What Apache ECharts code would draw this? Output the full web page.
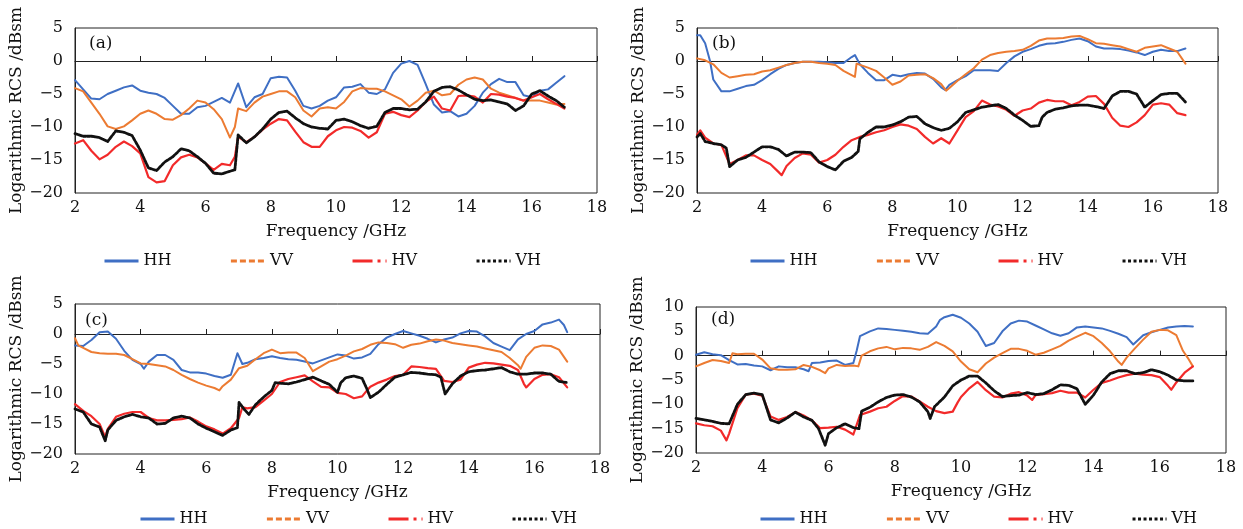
<!DOCTYPE html>
<html>
<head>
<meta charset="utf-8">
<script src="https://cdn.jsdelivr.net/npm/echarts@6/dist/echarts.min.js"></script>
<style>
  html, body { margin: 0; padding: 0; background: #fff; }
  #chart { width: 1243px; height: 529px; }
</style>
</head>
<body>
<div id="chart"></div>
<script>
const seriesNames = ['HH', 'VV', 'HV', 'VH']
const panelLabels = ['(a)', '(b)', '(c)', '(d)']
const yMaxes = [5, 5, 5, 10]
const xName = 'Frequency /GHz'
const yName = 'Logarithmic RCS /dBsm'

// (a) [frequency GHz, RCS dBsm]
const aHH = [[2,-2.9],[2.25,-4.3],[2.5,-5.7],[2.75,-5.8],[3,-5.0],[3.25,-4.5],[3.5,-4.0],[3.75,-3.7],[4,-4.5],[4.25,-4.8],[4.5,-5.0],[4.75,-5.6],[5,-6.8],[5.25,-8.0],[5.5,-8.0],[5.75,-7.0],[6,-6.8],[6.25,-6.2],[6.5,-5.6],[6.75,-6.3],[7,-3.4],[7.25,-7.0],[7.5,-5.5],[7.75,-5.0],[8,-2.6],[8.25,-2.4],[8.5,-2.5],[8.75,-4.5],[9,-6.8],[9.25,-7.2],[9.5,-6.8],[9.75,-6.0],[10,-5.5],[10.25,-4.0],[10.5,-3.9],[10.75,-3.5],[11,-4.8],[11.25,-5.0],[11.5,-4.3],[11.75,-1.8],[12,-0.4],[12.25,0.0],[12.5,-0.6],[12.75,-3.5],[13,-6.6],[13.25,-7.8],[13.5,-7.6],[13.75,-8.4],[14,-8.0],[14.25,-6.8],[14.5,-4.8],[14.75,-3.5],[15,-2.7],[15.25,-3.2],[15.5,-3.2],[15.75,-5.2],[16,-5.5],[16.25,-4.5],[16.5,-4.3],[16.75,-3.3],[17,-2.3]]
const aVV = [[2,-4.1],[2.25,-4.6],[2.5,-6.3],[2.75,-8.0],[3,-9.9],[3.25,-10.3],[3.5,-9.9],[3.75,-9.0],[4,-8.0],[4.25,-7.5],[4.5,-8.0],[4.75,-8.8],[5,-8.9],[5.25,-8.2],[5.5,-7.2],[5.75,-6.0],[6,-6.3],[6.25,-7.3],[6.5,-8.8],[6.75,-11.6],[6.9,-10.0],[7,-7.2],[7.25,-7.6],[7.5,-6.3],[7.75,-5.4],[8,-5.0],[8.25,-4.6],[8.5,-4.6],[8.75,-5.5],[9,-7.5],[9.25,-8.4],[9.5,-7.2],[9.75,-7.0],[10,-7.2],[10.25,-6.2],[10.5,-4.6],[10.75,-4.1],[11,-4.2],[11.25,-4.2],[11.5,-4.6],[11.75,-5.2],[12,-5.8],[12.25,-6.9],[12.5,-6.0],[12.75,-4.8],[13,-4.5],[13.25,-5.2],[13.5,-5.0],[13.75,-3.6],[14,-2.8],[14.25,-2.5],[14.5,-2.8],[14.75,-4.2],[15,-4.8],[15.25,-5.2],[15.5,-5.6],[15.75,-6.0],[16,-6.0],[16.25,-6.0],[16.5,-6.3],[16.75,-6.6],[17,-6.5]]
const aHV = [[2,-12.5],[2.25,-12.0],[2.5,-13.6],[2.75,-14.9],[3,-14.2],[3.25,-13.0],[3.5,-12.2],[3.75,-12.9],[4,-14.0],[4.25,-17.6],[4.5,-18.4],[4.75,-18.2],[5,-15.8],[5.25,-14.6],[5.5,-14.2],[5.75,-14.6],[6,-15.5],[6.25,-16.5],[6.5,-15.6],[6.75,-15.8],[6.9,-14.5],[7,-11.5],[7.25,-12.3],[7.5,-11.5],[7.75,-10.4],[8,-9.5],[8.25,-8.8],[8.5,-9.0],[8.75,-10.7],[9,-12.3],[9.25,-13.0],[9.5,-13.0],[9.75,-11.4],[10,-10.5],[10.25,-10.0],[10.5,-10.1],[10.75,-10.6],[11,-11.6],[11.25,-10.8],[11.5,-8.0],[11.75,-7.7],[12,-8.2],[12.25,-8.5],[12.5,-7.5],[12.75,-6.2],[13,-5.4],[13.25,-7.2],[13.5,-7.5],[13.75,-5.3],[14,-5.2],[14.25,-5.4],[14.5,-6.3],[14.75,-5.0],[15,-5.1],[15.25,-5.4],[15.5,-5.6],[15.75,-6.0],[16,-5.5],[16.25,-5.0],[16.5,-5.8],[16.75,-6.5],[17,-7.2]]
const aVH = [[2,-11.0],[2.25,-11.4],[2.5,-11.4],[2.75,-11.6],[3,-12.2],[3.25,-10.6],[3.5,-10.8],[3.75,-11.3],[4,-13.5],[4.25,-16.2],[4.5,-16.6],[4.75,-15.3],[5,-14.5],[5.25,-13.3],[5.5,-13.6],[5.75,-14.5],[6,-15.5],[6.25,-17.0],[6.5,-17.1],[6.75,-16.7],[6.9,-16.5],[7,-11.2],[7.25,-12.4],[7.5,-11.5],[7.75,-10.3],[8,-8.8],[8.25,-7.8],[8.5,-7.6],[8.75,-8.6],[9,-9.5],[9.25,-10.0],[9.5,-10.2],[9.75,-10.3],[10,-9.0],[10.25,-8.8],[10.5,-9.2],[10.75,-9.8],[11,-10.2],[11.25,-9.9],[11.5,-7.8],[11.75,-7.2],[12,-7.2],[12.25,-7.4],[12.5,-7.3],[12.75,-6.2],[13,-4.6],[13.25,-4.0],[13.5,-3.9],[13.75,-4.4],[14,-5.1],[14.25,-5.8],[14.5,-6.0],[14.75,-5.9],[15,-6.2],[15.25,-6.5],[15.5,-7.5],[15.75,-6.8],[16,-5.0],[16.25,-4.5],[16.5,-5.3],[16.75,-6.0],[17,-7.0]]

// (b)
const bHH = [[2,3.9],[2.1,3.9],[2.25,2.7],[2.4,0.0],[2.5,-2.8],[2.75,-4.6],[3,-4.6],[3.25,-4.2],[3.5,-3.8],[3.75,-3.6],[4,-2.9],[4.25,-2.0],[4.5,-1.2],[4.75,-0.6],[5,-0.3],[5.25,-0.1],[5.5,-0.1],[5.75,-0.1],[6,-0.2],[6.25,-0.3],[6.5,-0.3],[6.75,0.6],[6.85,0.9],[7,-0.5],[7.25,-1.8],[7.5,-2.9],[7.75,-2.9],[8,-2.1],[8.25,-2.3],[8.5,-2.0],[8.75,-1.8],[9,-1.9],[9.25,-2.7],[9.5,-4.0],[9.62,-4.4],[9.75,-3.6],[10,-2.9],[10.25,-2.3],[10.5,-1.4],[10.75,-1.4],[11,-1.4],[11.25,-1.5],[11.5,-0.3],[11.75,0.7],[12,1.4],[12.25,1.8],[12.5,2.3],[12.75,2.6],[13,2.7],[13.25,2.9],[13.5,3.2],[13.75,3.4],[14,3.0],[14.25,2.2],[14.5,1.9],[14.75,1.9],[15,1.8],[15.25,1.6],[15.5,1.3],[15.75,0.9],[16,1.4],[16.25,1.7],[16.5,1.5],[16.75,1.5],[17,1.9]]
const bVV = [[2,0.4],[2.25,0.1],[2.5,-0.5],[2.75,-1.8],[3,-2.5],[3.25,-2.3],[3.5,-2.1],[3.75,-2.0],[4,-1.6],[4.25,-1.4],[4.5,-1.0],[4.75,-0.6],[5,-0.3],[5.25,-0.1],[5.5,-0.1],[5.75,-0.3],[6,-0.4],[6.25,-0.6],[6.5,-1.5],[6.85,-2.4],[6.9,-0.4],[7.25,-1.0],[7.5,-1.5],[7.75,-2.5],[8,-3.6],[8.25,-3.1],[8.5,-2.2],[8.75,-2.1],[9,-2.0],[9.25,-2.6],[9.5,-3.5],[9.65,-4.5],[9.75,-4.1],[10,-3.0],[10.25,-2.0],[10.5,-1.1],[10.75,0.2],[11,0.9],[11.25,1.2],[11.5,1.4],[11.75,1.5],[12,1.7],[12.25,2.3],[12.5,3.1],[12.75,3.4],[13,3.4],[13.25,3.5],[13.5,3.7],[13.75,3.8],[14,3.3],[14.25,2.7],[14.5,2.6],[14.75,2.4],[15,2.2],[15.25,1.8],[15.5,1.4],[15.75,2.0],[16,2.2],[16.25,2.4],[16.5,1.9],[16.75,1.4],[17,-0.4]]
const bHV = [[2,-11.2],[2.1,-10.5],[2.25,-11.6],[2.5,-12.5],[2.75,-12.7],[3,-15.6],[3.25,-15.0],[3.5,-14.3],[3.75,-14.3],[4,-15.0],[4.25,-15.6],[4.5,-16.8],[4.6,-17.3],[4.75,-15.9],[5,-14.7],[5.25,-14.0],[5.5,-14.2],[5.75,-15.4],[6,-15.0],[6.25,-14.2],[6.5,-13.0],[6.75,-12.0],[7,-11.5],[7.25,-11.2],[7.5,-10.8],[7.75,-10.5],[8,-10.0],[8.25,-9.6],[8.5,-9.8],[8.75,-10.3],[9,-11.5],[9.25,-12.5],[9.5,-11.7],[9.75,-12.5],[10,-10.5],[10.25,-8.5],[10.5,-7.6],[10.75,-6.0],[11,-6.6],[11.25,-6.9],[11.5,-7.4],[11.75,-8.3],[12,-7.5],[12.25,-7.2],[12.5,-6.3],[12.75,-5.9],[13,-6.1],[13.25,-6.1],[13.5,-6.7],[13.75,-6.2],[14,-5.4],[14.25,-5.3],[14.5,-6.5],[14.75,-8.6],[15,-9.8],[15.25,-10.0],[15.5,-9.3],[15.75,-8.2],[16,-6.6],[16.25,-6.4],[16.5,-6.6],[16.75,-7.9],[17,-8.2]]
const bVH = [[2,-11.5],[2.1,-11.0],[2.25,-12.2],[2.5,-12.5],[2.75,-12.7],[2.9,-13.2],[3,-16.0],[3.25,-15.0],[3.5,-14.6],[3.75,-13.8],[4,-13.0],[4.25,-13.0],[4.5,-13.4],[4.75,-14.4],[5,-13.8],[5.25,-13.8],[5.5,-13.9],[5.75,-15.3],[6,-16.0],[6.25,-16.5],[6.5,-15.2],[6.75,-14.6],[6.95,-13.7],[7,-11.8],[7.25,-10.8],[7.5,-10.0],[7.75,-10.0],[8,-9.7],[8.25,-9.2],[8.5,-8.5],[8.75,-8.4],[9,-9.5],[9.25,-10.1],[9.5,-10.5],[9.75,-10.2],[10,-9.2],[10.25,-7.8],[10.5,-7.4],[10.75,-7.0],[11,-6.8],[11.25,-6.6],[11.5,-7.2],[11.75,-8.2],[12,-9.0],[12.25,-9.9],[12.5,-9.8],[12.6,-8.5],[12.75,-7.8],[13,-7.3],[13.25,-7.1],[13.5,-6.8],[13.75,-6.7],[14,-6.7],[14.25,-6.9],[14.5,-7.2],[14.75,-5.3],[15,-4.6],[15.25,-4.6],[15.5,-5.0],[15.75,-7.0],[16,-6.0],[16.25,-5.1],[16.5,-4.9],[16.75,-4.9],[17,-6.2]]

// (c)
const cHH = [[2,-1.9],[2.25,-2.0],[2.5,-1.0],[2.75,0.3],[3,0.4],[3.25,-0.8],[3.5,-2.8],[3.75,-4.3],[4,-5.0],[4.1,-5.8],[4.25,-4.6],[4.5,-3.5],[4.75,-3.5],[5,-4.3],[5.25,-6.0],[5.5,-6.4],[5.75,-6.4],[6,-6.6],[6.25,-7.0],[6.5,-7.3],[6.75,-6.8],[6.95,-3.2],[7.1,-5.0],[7.25,-4.8],[7.5,-4.2],[7.75,-4.0],[8,-3.7],[8.25,-4.0],[8.5,-4.2],[8.75,-4.3],[9,-4.6],[9.25,-4.9],[9.5,-4.4],[9.75,-3.9],[10,-3.4],[10.25,-3.6],[10.5,-4.1],[10.75,-3.9],[11,-3.3],[11.25,-1.7],[11.5,-0.6],[11.75,0.0],[12,0.5],[12.25,0.1],[12.5,-0.3],[12.75,-0.8],[13,-1.4],[13.25,-0.9],[13.5,-0.6],[13.75,0.1],[14,0.5],[14.25,0.4],[14.5,-0.4],[14.75,-1.5],[15,-2.1],[15.25,-2.7],[15.5,-0.9],[15.75,0.0],[16,0.5],[16.25,1.6],[16.5,1.9],[16.75,2.4],[16.9,1.5],[17,0.3]]
const cVV = [[2,-0.7],[2.1,-1.9],[2.25,-2.3],[2.5,-3.0],[2.75,-3.2],[3,-3.3],[3.25,-3.3],[3.5,-3.5],[3.75,-4.2],[4,-4.9],[4.25,-5.0],[4.5,-5.2],[4.75,-5.4],[5,-6.0],[5.25,-6.8],[5.5,-7.5],[5.75,-8.1],[6,-8.6],[6.25,-9.0],[6.4,-9.4],[6.5,-8.7],[6.75,-7.6],[7,-5.7],[7.25,-5.3],[7.5,-4.2],[7.75,-3.2],[8,-2.6],[8.25,-3.2],[8.5,-3.1],[8.75,-3.1],[9,-4.0],[9.25,-6.2],[9.5,-5.4],[9.75,-4.6],[10,-4.2],[10.25,-3.6],[10.5,-2.9],[10.75,-2.5],[11,-1.8],[11.25,-1.4],[11.5,-1.5],[11.75,-1.7],[12,-2.3],[12.25,-1.8],[12.5,-1.6],[12.75,-1.2],[13,-0.9],[13.25,-1.1],[13.5,-1.5],[13.75,-1.7],[14,-1.9],[14.25,-2.1],[14.5,-2.4],[14.75,-2.7],[15,-3.0],[15.25,-4.0],[15.5,-5.2],[15.58,-5.8],[15.75,-3.8],[16,-2.3],[16.25,-1.9],[16.5,-2.0],[16.75,-2.6],[17,-4.6]]
const cHV = [[2,-11.7],[2.25,-12.8],[2.5,-13.7],[2.75,-15.0],[2.92,-17.2],[3,-15.8],[3.25,-13.8],[3.5,-13.3],[3.75,-13.0],[4,-13.0],[4.25,-14.0],[4.5,-14.4],[4.75,-14.4],[5,-14.3],[5.25,-14.2],[5.5,-13.9],[5.75,-14.6],[6,-15.4],[6.25,-15.9],[6.5,-16.6],[6.75,-15.7],[7,-14.0],[7.1,-12.2],[7.25,-12.4],[7.5,-12.2],[7.75,-11.1],[8,-10.0],[8.25,-8.0],[8.5,-7.5],[8.75,-7.2],[9,-6.9],[9.25,-7.9],[9.5,-8.8],[9.75,-8.9],[10,-9.8],[10.25,-10.0],[10.5,-10.7],[10.75,-10.4],[10.9,-9.4],[11,-8.8],[11.25,-8.1],[11.5,-7.6],[11.75,-7.0],[12,-6.8],[12.25,-5.4],[12.5,-5.5],[12.75,-5.7],[13,-5.8],[13.25,-7.8],[13.5,-8.0],[13.75,-7.6],[14,-5.6],[14.25,-5.1],[14.5,-4.8],[14.75,-4.9],[15,-5.1],[15.25,-5.3],[15.5,-6.0],[15.68,-8.3],[15.75,-8.9],[16,-7.5],[16.25,-6.8],[16.5,-6.7],[16.75,-7.2],[17,-8.9]]
const cVH = [[2,-12.5],[2.25,-13.0],[2.5,-15.0],[2.75,-15.5],[2.92,-17.8],[3,-16.0],[3.25,-14.4],[3.5,-13.8],[3.75,-13.4],[4,-13.8],[4.25,-14.0],[4.5,-15.0],[4.75,-14.9],[5,-14.0],[5.25,-13.7],[5.5,-14.0],[5.75,-15.0],[6,-15.7],[6.25,-16.3],[6.5,-16.9],[6.75,-16.0],[6.95,-15.6],[7,-11.4],[7.15,-12.5],[7.3,-13.4],[7.5,-11.8],[7.75,-10.5],[8,-9.4],[8.1,-8.1],[8.25,-8.2],[8.5,-8.3],[8.75,-8.0],[9,-7.6],[9.25,-7.2],[9.5,-7.8],[9.75,-8.4],[10,-9.7],[10.1,-8.1],[10.25,-7.3],[10.5,-7.0],[10.75,-7.4],[10.9,-9.2],[11,-10.6],[11.25,-9.7],[11.5,-8.4],[11.75,-7.2],[12,-6.8],[12.25,-6.4],[12.5,-6.5],[12.75,-6.7],[13,-6.8],[13.15,-7.2],[13.28,-10.0],[13.5,-8.3],[13.75,-7.0],[14,-6.3],[14.25,-6.1],[14.5,-6.0],[14.75,-5.8],[15,-5.6],[15.25,-6.3],[15.5,-6.7],[15.75,-6.7],[16,-6.5],[16.25,-6.5],[16.5,-6.7],[16.75,-7.9],[17,-8.1]]

// (d)
const dHH = [[2,0.2],[2.25,0.7],[2.5,0.3],[2.75,0.1],[3,-0.9],[3.25,-1.8],[3.5,-1.7],[3.75,-2.0],[4,-2.2],[4.25,-3.0],[4.5,-2.2],[4.75,-2.4],[5,-2.4],[5.25,-2.8],[5.4,-3.2],[5.5,-1.5],[5.75,-1.4],[6,-1.1],[6.25,-1.0],[6.5,-1.9],[6.75,-1.5],[6.85,1.0],[6.95,4.0],[7,3.7],[7.25,5.0],[7.5,5.6],[7.75,5.5],[8,5.3],[8.25,5.1],[8.5,4.9],[8.75,4.6],[9,4.5],[9.25,6.0],[9.36,7.3],[9.5,7.9],[9.75,8.4],[10,7.8],[10.25,6.6],[10.5,4.9],[10.75,2.0],[11,2.6],[11.25,5.0],[11.5,6.6],[11.75,7.2],[12,7.0],[12.25,6.2],[12.5,5.4],[12.75,4.6],[13,4.1],[13.25,4.6],[13.5,5.8],[13.75,6.0],[14,5.8],[14.25,5.6],[14.5,5.1],[14.75,4.5],[15,3.8],[15.2,2.3],[15.25,2.5],[15.5,4.2],[15.75,4.8],[16,5.3],[16.25,5.8],[16.5,6.0],[16.75,6.1],[17,6.0]]
const dVV = [[2,-2.2],[2.25,-1.5],[2.5,-0.9],[2.75,-1.1],[3,-1.5],[3.1,0.5],[3.25,0.3],[3.5,0.4],[3.75,0.4],[4,-0.8],[4.25,-2.6],[4.5,-2.9],[4.75,-2.9],[5,-2.8],[5.25,-1.9],[5.5,-2.3],[5.75,-3.0],[5.9,-3.6],[6,-2.6],[6.25,-1.9],[6.5,-2.1],[6.75,-2.0],[6.9,-2.2],[7,0.0],[7.25,0.9],[7.5,1.5],[7.75,1.8],[8,1.3],[8.25,1.6],[8.5,1.5],[8.75,1.2],[9,1.8],[9.25,2.8],[9.5,2.0],[9.75,0.9],[10,-1.2],[10.25,-2.8],[10.5,-3.4],[10.75,-1.6],[11,-0.4],[11.25,0.5],[11.5,1.4],[11.75,1.4],[12,1.0],[12.25,0.2],[12.5,0.6],[12.75,1.3],[13,2.0],[13.25,3.1],[13.5,3.9],[13.75,4.7],[14,4.0],[14.25,2.6],[14.5,0.9],[14.75,-1.2],[14.85,-1.9],[15,-0.4],[15.25,1.5],[15.5,3.3],[15.75,4.9],[16,5.3],[16.25,5.2],[16.5,4.2],[16.7,1.0],[16.85,-0.5],[17,-2.2]]
const dHV = [[2,-13.9],[2.25,-14.3],[2.5,-14.5],[2.75,-15.4],[2.92,-17.4],[3,-16.0],[3.25,-10.8],[3.5,-8.0],[3.75,-7.8],[4,-8.2],[4.25,-12.5],[4.5,-13.2],[4.75,-12.6],[5,-11.6],[5.25,-12.3],[5.5,-13.3],[5.75,-14.9],[6,-14.8],[6.25,-14.6],[6.5,-15.2],[6.75,-16.2],[6.95,-12.2],[7.25,-11.5],[7.5,-10.8],[7.75,-10.5],[8,-9.3],[8.25,-8.3],[8.5,-8.4],[8.75,-9.4],[9,-10.5],[9.25,-11.4],[9.5,-11.8],[9.75,-11.5],[9.9,-9.6],[10,-8.5],[10.25,-6.7],[10.5,-5.4],[10.75,-7.1],[11,-8.4],[11.25,-8.6],[11.5,-7.8],[11.75,-7.5],[12,-8.2],[12.15,-9.1],[12.25,-8.1],[12.5,-7.9],[12.75,-7.7],[13,-7.2],[13.25,-7.6],[13.5,-7.6],[13.75,-8.6],[14,-7.0],[14.25,-5.6],[14.5,-5.1],[14.75,-4.5],[15,-4.0],[15.25,-3.7],[15.5,-3.9],[15.75,-4.0],[16,-4.4],[16.25,-6.2],[16.35,-7.0],[16.5,-5.5],[16.75,-3.5],[17,-2.2]]
const dVH = [[2,-12.9],[2.25,-13.2],[2.5,-13.5],[2.75,-13.9],[3,-14.0],[3.25,-10.0],[3.5,-8.0],[3.75,-7.7],[4,-8.0],[4.25,-13.2],[4.5,-13.8],[4.75,-12.8],[5,-11.6],[5.25,-12.6],[5.5,-13.3],[5.7,-15.0],[5.9,-18.4],[6,-16.0],[6.25,-14.8],[6.5,-14.0],[6.75,-14.8],[6.92,-15.0],[7,-11.4],[7.25,-10.6],[7.5,-9.5],[7.75,-8.6],[8,-8.1],[8.25,-8.0],[8.5,-8.5],[8.75,-9.5],[9,-11.5],[9.07,-12.9],[9.2,-10.5],[9.5,-8.5],[9.75,-6.2],[10,-5.0],[10.25,-4.2],[10.5,-4.2],[10.75,-5.6],[11,-7.2],[11.25,-8.4],[11.5,-8.2],[11.75,-8.1],[12,-7.6],[12.25,-8.0],[12.5,-7.8],[12.75,-7.0],[13,-6.0],[13.25,-6.1],[13.5,-6.8],[13.75,-10.0],[14,-8.1],[14.25,-5.4],[14.5,-3.7],[14.75,-3.1],[15,-3.1],[15.25,-3.7],[15.5,-3.5],[15.75,-2.9],[16,-3.3],[16.25,-4.0],[16.5,-5.0],[16.75,-5.2],[17,-5.2]]

const panelData = [
  [aHH, aVV, aHV, aVH],
  [bHH, bVV, bHV, bVH],
  [cHH, cVV, cHV, cVH],
  [dHH, dVV, dHV, dVH]
]

const font = 'DejaVu Serif'
const colors = ['#3f6fc4', '#ec7b32', '#f22a2a', '#111111']
const lineWidths = [2, 2, 2.2, 2.8]
const lineTypes = ['solid', 'solid', 'solid', [3, 1.2]]
const legendTypes = ['solid', [6, 3], [20, 5, 3, 5], [3, 2.5]]

const grids = [
  { left: 75, right: 646, top: 28, height: 165 },
  { left: 697, right: 25, top: 28, height: 165 },
  { left: 75, right: 643, top: 304, height: 150 },
  { left: 696, right: 17, top: 307, height: 146 }
]
const legendPos = [
  { left: 98, top: 248 },
  { left: 744, top: 248 },
  { left: 134, top: 506 },
  { left: 754, top: 506 }
]
const labelPos = [
  { left: 89, top: 35 },
  { left: 712, top: 35 },
  { left: 85, top: 312 },
  { left: 711, top: 311 }
]

const minus = (v) => String(v).replace('-', '\u2212')

const chart = echarts.init(document.getElementById('chart'), null, { renderer: 'canvas' })

chart.setOption({
  animation: false,
  backgroundColor: '#fff',
  color: colors,
  title: panelLabels.map((text, i) => ({
    text,
    left: labelPos[i].left,
    top: labelPos[i].top,
    padding: 0,
    textStyle: { fontFamily: font, fontSize: 17, fontWeight: 'normal', color: '#111' }
  })),
  legend: legendPos.map((pos) => ({
    left: pos.left,
    top: pos.top,
    itemWidth: 34,
    itemHeight: 12,
    itemGap: 58,
    selectedMode: false,
    textStyle: { fontFamily: font, fontSize: 16, color: '#111' },
    data: seriesNames.map((name, k) => ({
      name,
      itemStyle: { opacity: 0 },
      lineStyle: { type: legendTypes[k], width: 3, color: colors[k], cap: 'butt' }
    }))
  })),
  grid: grids.map((g) => ({ ...g, show: true, borderColor: '#222', borderWidth: 1, backgroundColor: 'transparent' })),
  xAxis: grids.map((g, i) => ({
    type: 'value',
    gridIndex: i,
    min: 2,
    max: 18,
    interval: 2,
    name: xName,
    nameLocation: 'middle',
    nameGap: 30,
    nameTextStyle: { fontFamily: font, fontSize: 17, color: '#111' },
    axisLine: { lineStyle: { color: '#222', width: 1 } },
    axisTick: { inside: true, length: 5, lineStyle: { color: '#222' } },
    axisLabel: { margin: 7, fontFamily: font, fontSize: 16, color: '#111', formatter: minus },
    splitLine: { show: false }
  })),
  yAxis: grids.map((g, i) => ({
    type: 'value',
    gridIndex: i,
    min: -20,
    max: yMaxes[i],
    interval: 5,
    name: yName,
    nameLocation: 'middle',
    nameGap: 45,
    nameTextStyle: { fontFamily: font, fontSize: 17, color: '#111' },
    axisLine: { lineStyle: { color: '#222', width: 1 } },
    axisTick: { show: false },
    axisLabel: { margin: 12, fontFamily: font, fontSize: 16, color: '#111', formatter: minus },
    splitLine: { show: false }
  })),
  series: panelData.flatMap((lines, i) => lines.map((data, k) => ({
    name: seriesNames[k],
    type: 'line',
    xAxisIndex: i,
    yAxisIndex: i,
    data,
    symbol: 'none',
    z: 2 + k,
    lineStyle: { color: colors[k], width: lineWidths[k], type: lineTypes[k], cap: 'round', join: 'round' }
  })))
})
</script>
</body>
</html>
